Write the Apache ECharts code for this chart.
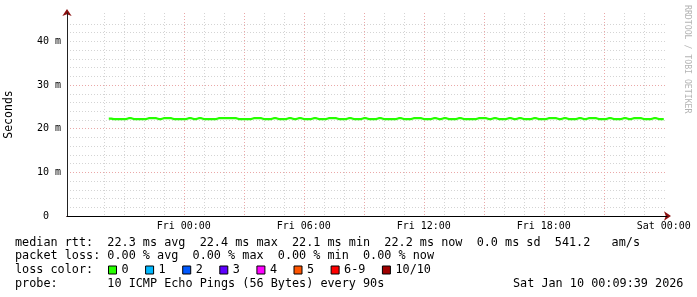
<!DOCTYPE html>
<html><head><meta charset="utf-8">
<script src="https://cdn.jsdelivr.net/npm/echarts@6/dist/echarts.min.js"></script>
<style>html,body{margin:0;padding:0;background:#fff}#c{width:697px;height:297px}</style>
</head><body><div id="c"></div>
<script>
// ---- data ----
const xMinHour = 18.161;            // Thu 18:09:39 (hours since Thu 00:00)
const xMaxHour = 48.161;            // Sat 00:09:39
const minorHours = [19,20,21,22,23,24,25,26,27,28,29,30,31,32,33,34,35,36,37,38,39,40,41,42,43,44,45,46,47,48];
const majorHours = [21,24,27,30,33,36,39,42,45,48];
const labelHours = [24,30,36,42,48];
const labelTexts = ["Fri 00:00","Fri 06:00","Fri 12:00","Fri 18:00","Sat 00:00"];
const yMinorTicks = [0,2,4,6,8,10,12,14,16,18,20,22,24,26,28,30,32,34,36,38,40,42,44,46];
const yMajorTicks = [0,10,20,30,40];
const yTickLabels = ["0  ","10 m","20 m","30 m","40 m"];
const sampleStart = 20.25;   // first sample hour
const sampleStep = 0.25;     // 15 min
const medianMs = [
22.3,22.2,22.2,22.2,22.4,22.2,22.2,22.2,22.4,22.4,
22.2,22.4,22.4,22.2,22.2,22.2,22.4,22.2,22.4,22.2,
22.2,22.2,22.4,22.4,22.4,22.4,22.2,22.2,22.2,22.4,
22.4,22.2,22.2,22.4,22.2,22.2,22.4,22.2,22.4,22.2,
22.2,22.4,22.2,22.2,22.4,22.4,22.2,22.2,22.4,22.2,
22.2,22.4,22.2,22.2,22.4,22.2,22.2,22.2,22.4,22.2,
22.2,22.4,22.4,22.2,22.2,22.4,22.2,22.4,22.2,22.2,
22.4,22.2,22.2,22.2,22.4,22.4,22.2,22.4,22.2,22.2,
22.4,22.2,22.4,22.2,22.2,22.4,22.2,22.2,22.4,22.4,
22.2,22.4,22.2,22.2,22.4,22.2,22.4,22.4,22.2,22.2,
22.4,22.2,22.2,22.4,22.2,22.4,22.4,22.2,22.2,22.4,
22.2,22.2
];
const lossNames = ["0","1","2","3","4","5","6-9","10/10"];
const lossColors = ["#26ff00","#00b8ff","#0059ff","#5e00ff","#ff00ff","#ff5500","#ff0000","#a00000"];
const legendRows = [
  "median rtt:  22.3 ms avg  22.4 ms max  22.1 ms min  22.2 ms now  0.0 ms sd  541.2   am/s",
  "packet loss: 0.00 % avg  0.00 % max  0.00 % min  0.00 % now",
  "loss color:",
  "probe:       10 ICMP Echo Pings (56 Bytes) every 90s"
];
const dateStamp = "Sat Jan 10 00:09:39 2026";
const yTitle = "Seconds";
const sideText = "RRDTOOL / TOBI OETIKER";

// ---- chart ----
const FONT = "DejaVu Sans Mono";
const GREY = "#d4d4d4", RED = "#eaa8a8";
const chart = echarts.init(document.getElementById('c'), null, {renderer:'canvas'});
const medianData = medianMs.map((v,i)=>[sampleStart + i*sampleStep, v]);

const baseX = {type:'value', position:'bottom', offset:0, min:xMinHour, max:xMaxHour, gridIndex:0, axisLabel:{show:false}, axisTick:{show:false}, axisLine:{show:false}, splitLine:{show:false}};
const baseY = {type:'value', position:'left', offset:0, min:0, max:46.5, gridIndex:0, axisLabel:{show:false}, axisTick:{show:false}, axisLine:{show:false}, splitLine:{show:false}};

const series = [{
  type:'line', name:lossNames[0], xAxisIndex:0, yAxisIndex:0, data:medianData,
  step:'middle', showSymbol:false, symbol:'none', color:lossColors[0],
  lineStyle:{width:2.2, color:lossColors[0]}, z:5, animation:false
}];
for (let i=1;i<lossNames.length;i++) {
  series.push({type:'line', name:lossNames[i], data:[], color:lossColors[i], xAxisIndex:0, yAxisIndex:0, animation:false});
}

chart.setOption({
  animation:false,
  grid:{left:67, right:30, top:13, bottom:81, containLabel:false, outerBoundsMode:'none'},
  xAxis:[
    Object.assign({}, baseX, {axisTick:{show:false, customValues:minorHours},
      splitLine:{show:true, showMinLine:false, showMaxLine:false, lineStyle:{color:GREY, width:1, type:[1,2]}}, z:1}),
    Object.assign({}, baseX, {axisTick:{show:false, customValues:majorHours},
      splitLine:{show:true, showMinLine:false, showMaxLine:false, lineStyle:{color:RED, width:1, type:[1,2]}}, z:2}),
    Object.assign({}, baseX, {axisLine:{show:true, onZero:false, symbol:['none','arrow'], symbolSize:[7,7], symbolOffset:[0,4], lineStyle:{color:'#8b1010', width:1}}, z:3}),
    Object.assign({}, baseX, {axisLine:{show:true, onZero:false, lineStyle:{color:'#000', width:1}},
      axisTick:{show:false, customValues:labelHours},
      axisLabel:{show:true, customValues:labelHours, margin:5, color:'#000', fontFamily:FONT, fontSize:10,
        formatter:(v)=>{const k=labelHours.findIndex(h=>Math.abs(h-v)<1e-6); return k>=0?labelTexts[k]:'';}}, z:4})
  ],
  yAxis:[
    Object.assign({}, baseY, {axisTick:{show:false, customValues:yMinorTicks}, interval:2,
      splitLine:{show:true, showMinLine:false, showMaxLine:false, lineStyle:{color:GREY, width:1, type:[1,2]}}, z:1}),
    Object.assign({}, baseY, {axisTick:{show:false, customValues:yMajorTicks}, interval:10,
      splitLine:{show:true, showMinLine:false, showMaxLine:false, lineStyle:{color:RED, width:1, type:[1,2]}}, z:2}),
    Object.assign({}, baseY, {axisLine:{show:true, onZero:false, symbol:['none','arrow'], symbolSize:[7,7], symbolOffset:[0,4], lineStyle:{color:'#8b1010', width:1}}, z:3}),
    Object.assign({}, baseY, {axisLine:{show:true, onZero:false, lineStyle:{color:'#222', width:1}},
      axisTick:{show:false, customValues:yMajorTicks},
      name:yTitle, nameLocation:'middle', nameGap:52, nameRotate:90,
      nameTextStyle:{fontFamily:FONT, fontSize:11.5, color:'#000'},
      axisLabel:{show:true, customValues:yMajorTicks, margin:6, color:'#000', fontFamily:FONT, fontSize:10,
        formatter:(v)=>{const k=yMajorTicks.indexOf(v); return k>=0?yTickLabels[k]:'';}}, z:4})
  ],
  legend:{
    show:true, left:108, top:264, orient:'horizontal', selectedMode:false, padding:0,
    itemWidth:8, itemHeight:8, itemGap:16.5, icon:'rect',
    textStyle:{fontFamily:FONT, fontSize:11.8, color:'#000', padding:[0,0,0,0]},
    itemStyle:{borderColor:'#000', borderWidth:1},
    data:lossNames.map((n,i)=>({name:n, icon:'rect', itemStyle:{color:lossColors[i], borderColor:'#000', borderWidth:1}}))
  },
  series:series,
  graphic:[
    {type:'text', left:15, top:236.5, style:{text:legendRows[0], font:`11.8px "${FONT}"`, fill:'#000'}},
    {type:'text', left:15, top:250, style:{text:legendRows[1], font:`11.8px "${FONT}"`, fill:'#000'}},
    {type:'text', left:15, top:264.3, style:{text:legendRows[2], font:`11.8px "${FONT}"`, fill:'#000'}},
    {type:'text', left:15, top:277.5, style:{text:legendRows[3], font:`11.8px "${FONT}"`, fill:'#000'}},
    {type:'text', left:513, top:277.5, style:{text:dateStamp, font:`11.8px "${FONT}"`, fill:'#000'}},
    {type:'text', x:683, y:5, rotation:-Math.PI/2, style:{text:sideText, font:`8.2px "${FONT}"`, fill:'#b4b4b4', textAlign:'left', textVerticalAlign:'bottom'}}
  ]
});
</script></body></html>
